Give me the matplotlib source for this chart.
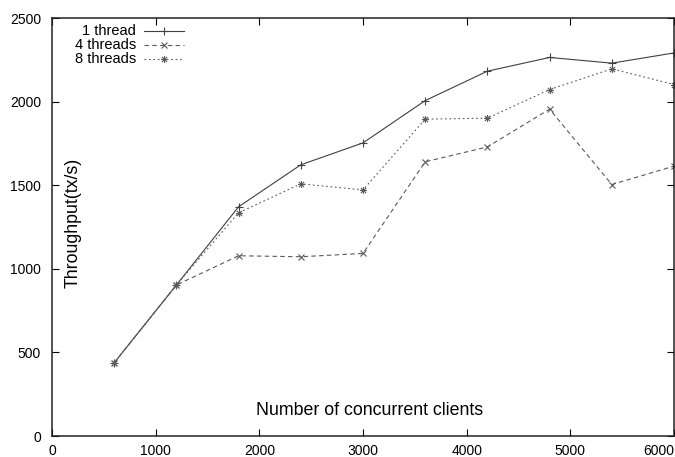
import matplotlib
matplotlib.use("Agg")
import matplotlib.pyplot as plt
from matplotlib.path import Path
from matplotlib.lines import Line2D

plt.rcParams['font.family'] = ['Liberation Sans', 'DejaVu Sans']

clients = [600, 1200, 1800, 2400, 3000, 3600, 4200, 4800, 5400, 6000]
thread1 = [438, 903, 1371, 1622, 1753, 2006, 2182, 2264, 2230, 2291]
threads4 = [438, 903, 1078, 1072, 1092, 1640, 1729, 1955, 1504, 1614]
threads8 = [438, 903, 1335, 1508, 1472, 1895, 1901, 2072, 2196, 2102]
labels = ["1 thread", "4 threads", "8 threads"]
x_ticks = [0, 1000, 2000, 3000, 4000, 5000, 6000]
y_ticks = [0, 500, 1000, 1500, 2000, 2500]

# gnuplot-style asterisk: plus and cross strokes combined
asterisk = Path(
    [(-1, 0), (1, 0), (0, -1), (0, 1),
     (-0.75, -0.75), (0.75, 0.75), (-0.75, 0.75), (0.75, -0.75)],
    [Path.MOVETO, Path.LINETO] * 4,
)

styles = [
    dict(color="#404040", linestyle="-", marker="+", ms=5.5, mew=0.8, lw=0.8),
    dict(color="#5a5a5a", linestyle=(0, (4, 3)), marker="x", ms=4.5, mew=0.8, lw=0.8),
    dict(color="#5a5a5a", linestyle=(0, (1.5, 2.5)), marker=asterisk, ms=5, mew=0.8, lw=0.8),
]

fig = plt.figure(figsize=(6.75, 4.57), dpi=100)
ax = fig.add_axes([52 / 675, 21 / 457, 622 / 675, 418 / 457])

for series, st in zip([thread1, threads4, threads8], styles):
    ax.plot(clients, series, **st)

ax.set_xlim(0, 6000)
ax.set_ylim(0, 2500)
ax.set_xticks(x_ticks)
ax.set_yticks(y_ticks)
ax.tick_params(direction="in", length=5, width=0.8, top=True, right=True,
               labelsize=10, colors="black")
ax.tick_params(axis="x", pad=6)
ax.tick_params(axis="y", pad=8)
for sp in ax.spines.values():
    sp.set_linewidth(1.1)
    sp.set_color("#222222")

xl = ax.get_xticklabels()
xl[-1].set_horizontalalignment("right")

ax.text(0.034, 0.51, "Throughput(tx/s)", rotation=90, ha="center", va="center",
        fontsize=12.8, transform=ax.transAxes)
ax.text(0.511, 0.06, "Number of concurrent clients", ha="center", va="center",
        fontsize=12.8, transform=ax.transAxes)

# key in the upper left corner: right-aligned labels, sample line to the right
key_rows = [31, 45, 59]
for lab, st, ypx in zip(labels, styles, key_rows):
    ya = (436 - ypx) / 418
    ax.text((136 - 52) / 622, ya, lab, ha="right", va="center", fontsize=10.5,
            transform=ax.transAxes)
    x0, x1 = (144 - 52) / 622, (184 - 52) / 622
    ax.add_line(Line2D([x0, (x0 + x1) / 2, x1], [ya, ya, ya], markevery=[1],
                       transform=ax.transAxes, **st))

fig.savefig("out.png", dpi=100)
